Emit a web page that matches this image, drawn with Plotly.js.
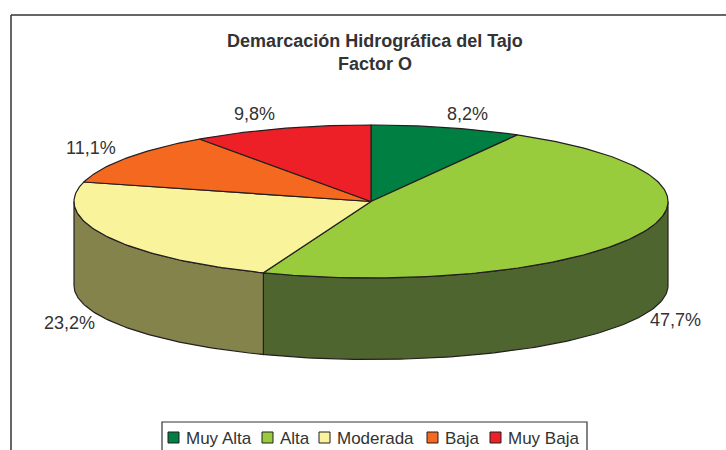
<!DOCTYPE html>
<html><head><meta charset="utf-8">
<script src="https://cdn.plot.ly/plotly-3.0.1.min.js"></script>
<style>html,body{margin:0;padding:0;background:#fff;overflow:hidden}#c{width:726px;height:450px}</style>
</head><body><div id="c"></div>
<script>
var categories = ["Muy Alta","Alta","Moderada","Baja","Muy Baja"];
var values = [8.2,47.7,23.2,11.1,9.8];
var labels = ["8,2%","47,7%","23,2%","11,1%","9,8%"];
var topColors = ["#007f42","#99cc3d","#f9f39b","#f4691f","#ee2027"];
var wallColors = ["#00401f","#4f6530","#84834c","#7a3510","#771013"];
var labelOffsets = [[21,-14],[36,3],[-37,4],[-36,-10],[-27,-15]];
var legendX = [168,262,319,427,490];

var cx=371, cy=201.5, rx=297, ry=76.5, depth=84, ryBottom=74, ink="#231f20";
function px(a){return cx+rx*Math.sin(a*Math.PI/180);}
function py(a){return cy-ry*Math.cos(a*Math.PI/180);}
function pb(a){return cy+depth-ryBottom*Math.cos(a*Math.PI/180);}
function arc(a0,a1){var n=Math.max(2,Math.ceil(Math.abs(a1-a0))),o=[];for(var i=0;i<=n;i++)o.push(a0+(a1-a0)*i/n);return o;}
var total=values.reduce(function(s,v){return s+v;},0), start=0, walls=[], tops=[], notes=[];
values.forEach(function(v,i){
  var a0=start, a1=start+v/total*360; start=a1;
  var w0=Math.max(a0,90), w1=Math.min(a1,270);
  if(w1>w0){
    var t=arc(w0,w1), b=t.slice().reverse();
    walls.push({type:"scatter",mode:"lines",fill:"toself",fillcolor:wallColors[i],name:categories[i],hoverinfo:"skip",showlegend:false,
      line:{color:ink,width:1.2},
      x:t.map(px).concat(b.map(px)).concat([px(w0)]),
      y:t.map(py).concat(b.map(pb)).concat([py(w0)])});
  }
  var s=arc(a0,a1);
  tops.push({type:"scatter",mode:"lines",fill:"toself",fillcolor:topColors[i],name:categories[i],hoverinfo:"skip",showlegend:false,
    line:{color:ink,width:1.2},
    x:[cx].concat(s.map(px)).concat([cx]),
    y:[cy].concat(s.map(py)).concat([cy])});
  var m=(a0+a1)/2, front=Math.cos(m*Math.PI/180)<0;
  notes.push({x:px(m)+labelOffsets[i][0],y:(front?pb(m):py(m))+labelOffsets[i][1],xref:"x",yref:"y",text:labels[i],showarrow:false,
    xanchor:"center",yanchor:"middle",font:{family:"Liberation Sans",size:18,color:"#333333"}});
});
var shapes=[
 {type:"line",x0:11,x1:740,y0:15,y1:15,line:{color:"#333333",width:1.5}},
 {type:"line",x0:11,x1:11,y0:15,y1:470,line:{color:"#333333",width:1.5}},
 {type:"rect",x0:162,x1:587,y0:422,y1:470,line:{color:"#333333",width:1.2},fillcolor:"#ffffff"}
];
categories.forEach(function(c,i){
  shapes.push({type:"rect",x0:legendX[i],x1:legendX[i]+11,y0:432,y1:443,fillcolor:topColors[i],line:{color:ink,width:1}});
  notes.push({x:legendX[i]+15.5,y:438,xref:"x",yref:"y",text:c,showarrow:false,xanchor:"left",yanchor:"middle",
    font:{family:"Liberation Sans",size:17,color:"#333333"}});
});
Plotly.newPlot("c",walls.concat(tops),{
  width:726,height:450,margin:{l:0,r:0,t:0,b:0},paper_bgcolor:"#fff",plot_bgcolor:"#fff",showlegend:false,
  title:{text:"Demarcación Hidrográfica del Tajo<br>Factor O",x:375/726,xanchor:"center",y:1-47/450,yanchor:"top",yref:"container",
    font:{family:"Liberation Sans",size:18,color:"#333333",weight:"bold"}},
  xaxis:{range:[0,726],visible:false,fixedrange:true},
  yaxis:{range:[450,0],visible:false,fixedrange:true},
  shapes:shapes,annotations:notes
},{displayModeBar:false,staticPlot:true});
</script></body></html>
